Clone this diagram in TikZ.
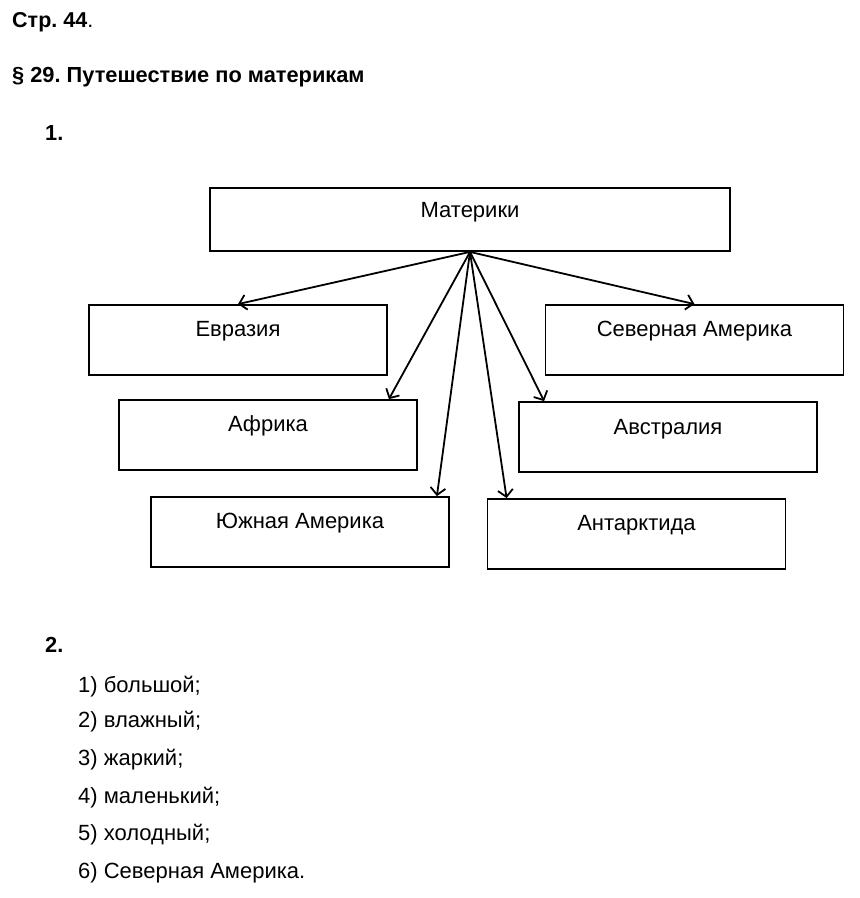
\documentclass[tikz,border=0pt]{standalone}
\usepackage{fontspec}
\setmainfont{Liberation Sans}
\usetikzlibrary{arrows.meta}
\frenchspacing

\begin{document}
\begin{tikzpicture}[x=1pt, y=-1pt, >={Straight Barb[length=7pt,width=15pt]},
  cbox/.style={draw, line width=1.8pt, minimum width=298pt, minimum height=70pt, inner sep=0pt,
    text height=31pt, text depth=39pt, font=\fontsize{22}{26}\selectfont},
  head/.style={anchor=base west, inner sep=0pt, font=\fontsize{21.8}{26}\selectfont\bfseries},
  item/.style={anchor=base west, inner sep=0pt, font=\fontsize{22}{26}\selectfont},
  link/.style={->, line width=1.8pt}]
  \useasboundingbox (0,0) rectangle (860,898);

  % Headings
  \node[head, font=\fontsize{21.5}{25}\selectfont\bfseries] (page) at (12,27) {Стр. 44\textmd{.}};
  \node[head] (par) at (12,82) {§ 29. Путешествие по материкам};
  \node[head] (q1) at (45,140) {1.};

  % Block Nodes
  \node[cbox, minimum width=520pt, minimum height=63pt, text height=29pt, text depth=34pt] (mat) at (470,219.5) {Материки};
  \node[cbox] (eur) at (238,340) {Евразия};
  \node[cbox] (nam) at (694.5,340) {Северная Америка};
  \node[cbox] (afr) at (268,435) {Африка};
  \node[cbox, text height=32.5pt, text depth=37.5pt] (aus) at (668,437) {Австралия};
  \node[cbox] (sam) at (300,532) {Южная Америка};
  \node[cbox] (ant) at (636.5,534) {Антарктида};

  % Arrows
  \draw[link] (mat.south) -- (eur.north);
  \draw[link] (mat.south) -- (nam.north);
  \draw[link] (mat.south) -- ([xshift=-29pt]afr.north east);
  \draw[link] (mat.south) -- ([xshift=26pt]aus.north west);
  \draw[link] (mat.south) -- ([xshift=-13pt]sam.north east);
  \draw[link] (mat.south) -- ([xshift=20pt]ant.north west);

  % Answers
  \node[head] (q2) at (45,652) {2.};
  \node[item] (a1) at (78,692.5) {1) большой;};
  \node[item] (a2) at (78,727.5) {2) влажный;};
  \node[item] (a3) at (78,765.5) {3) жаркий;};
  \node[item] (a4) at (78,803.5) {4) маленький;};
  \node[item] (a5) at (78,840.5) {5) холодный;};
  \node[item] (a6) at (78,878.5) {6) Северная Америка.};
\end{tikzpicture}
\end{document}
